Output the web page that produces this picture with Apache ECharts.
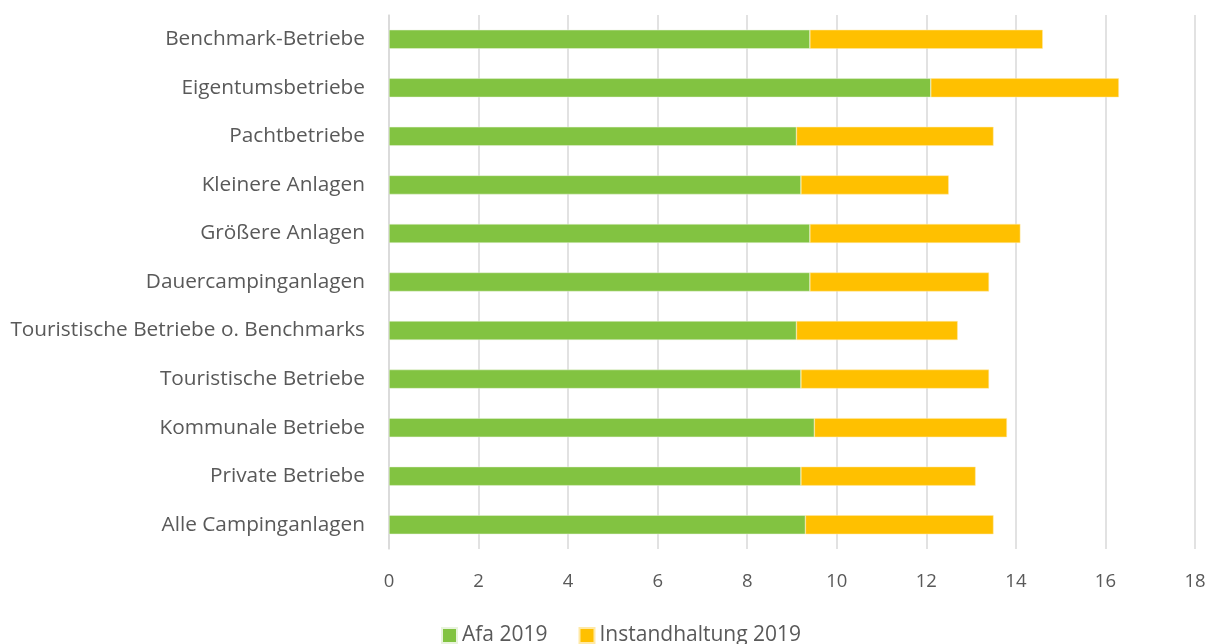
<!DOCTYPE html>
<html><head><meta charset="utf-8">
<script src="https://cdn.jsdelivr.net/npm/echarts@6/dist/echarts.min.js"></script>
<style>html,body{margin:0;padding:0;background:#fff}#c{width:1209px;height:644px}</style>
</head><body><div id="c"></div>
<script>
const categories = ["Alle Campinganlagen","Private Betriebe","Kommunale Betriebe","Touristische Betriebe","Touristische Betriebe o. Benchmarks","Dauercampinganlagen","Größere Anlagen","Kleinere Anlagen","Pachtbetriebe","Eigentumsbetriebe","Benchmark-Betriebe"];
const afa2019 = [9.3,9.2,9.5,9.2,9.1,9.4,9.4,9.2,9.1,12.1,9.4];
const instandhaltung2019 = [4.2,3.9,4.3,4.2,3.6,4.0,4.7,3.3,4.4,4.2,5.2];
const xTicks = [0,2,4,6,8,10,12,14,16,18];

const font = '"Open Sans", "Noto Sans", sans-serif';
const chart = echarts.init(document.getElementById('c'));
chart.setOption({
  animation:false,
  textStyle:{fontFamily:font,color:'#595959'},
  grid:{left:389,right:14,top:15,bottom:95,containLabel:false},
  legend:{top:625,left:441,padding:0,itemWidth:15,itemHeight:15,itemGap:31,icon:'rect',
    textStyle:{fontSize:21,color:'#595959',fontFamily:font},
    data:['Afa 2019','Instandhaltung 2019']},
  xAxis:{type:'value',min:xTicks[0],max:xTicks[xTicks.length-1],interval:2,
    axisLine:{show:false},axisTick:{show:false},
    axisLabel:{fontSize:18.5,color:'#595959',margin:23,fontFamily:font},
    splitLine:{lineStyle:{color:'#d9d9d9',width:1.5}}},
  yAxis:{type:'category',data:categories,
    axisLine:{show:true,lineStyle:{color:'#d9d9d9',width:1.5}},axisTick:{show:false},
    axisLabel:{fontSize:20.8,color:'#595959',margin:24,fontFamily:font}},
  series:[
    {name:'Afa 2019',type:'bar',stack:'t',data:afa2019,barWidth:19,
      itemStyle:{color:'#82C341',borderColor:'#e8f3dc',borderWidth:0.5}},
    {name:'Instandhaltung 2019',type:'bar',stack:'t',data:instandhaltung2019,barWidth:19,
      itemStyle:{color:'#FFC000',borderColor:'#ffe9a6',borderWidth:0.5}}
  ]
});
</script></body></html>
